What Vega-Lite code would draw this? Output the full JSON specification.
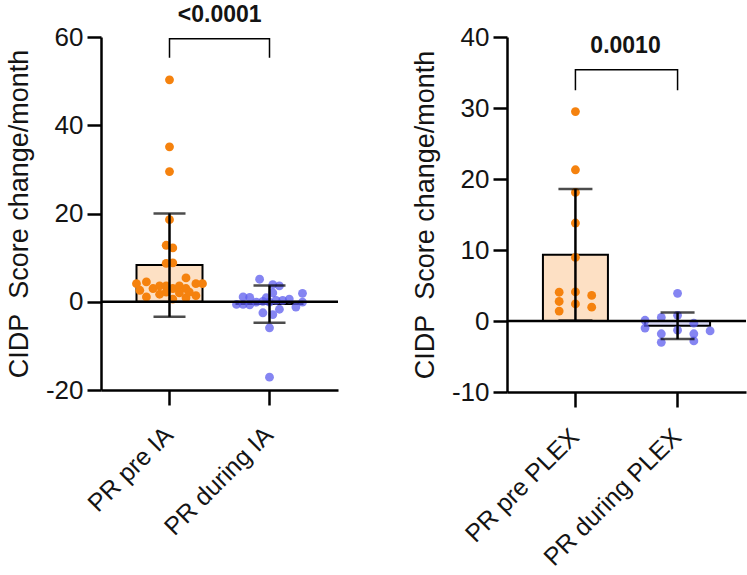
{
  "$schema": "https://vega.github.io/schema/vega-lite/v6.json",
  "padding": {"left": 5, "top": 3, "right": 0, "bottom": 0},
  "spacing": 71,
  "config": {
    "view": {"stroke": null},
    "font": "Liberation Sans",
    "axis": {
      "domainColor": "black", "domainWidth": 2.5, "tickColor": "black", "tickWidth": 2.5,
      "labelColor": "#141414", "titleColor": "#141414", "labelFont": "Liberation Sans", "titleFont": "Liberation Sans",
      "grid": false, "labelLimit": 400
    }
  },
  "datasets": {
    "ia": [
      {"cat": "PR pre IA", "kind": "pre", "v": 50.3, "slot": 0},
      {"cat": "PR pre IA", "kind": "pre", "v": 35.1, "slot": 0},
      {"cat": "PR pre IA", "kind": "pre", "v": 29.5, "slot": 0},
      {"cat": "PR pre IA", "kind": "pre", "v": 18.6, "slot": 0},
      {"cat": "PR pre IA", "kind": "pre", "v": 12.8, "slot": -1},
      {"cat": "PR pre IA", "kind": "pre", "v": 12.2, "slot": 1},
      {"cat": "PR pre IA", "kind": "pre", "v": 8.7, "slot": -1},
      {"cat": "PR pre IA", "kind": "pre", "v": 8.8, "slot": 1},
      {"cat": "PR pre IA", "kind": "pre", "v": 5.4, "slot": 5},
      {"cat": "PR pre IA", "kind": "pre", "v": 4.5, "slot": -7},
      {"cat": "PR pre IA", "kind": "pre", "v": 4.1, "slot": -10},
      {"cat": "PR pre IA", "kind": "pre", "v": 4.1, "slot": 10},
      {"cat": "PR pre IA", "kind": "pre", "v": 4.1, "slot": 8},
      {"cat": "PR pre IA", "kind": "pre", "v": 3.0, "slot": -5},
      {"cat": "PR pre IA", "kind": "pre", "v": 3.6, "slot": -3},
      {"cat": "PR pre IA", "kind": "pre", "v": 3.6, "slot": -1},
      {"cat": "PR pre IA", "kind": "pre", "v": 3.0, "slot": 1},
      {"cat": "PR pre IA", "kind": "pre", "v": 3.6, "slot": 3},
      {"cat": "PR pre IA", "kind": "pre", "v": 3.0, "slot": 5},
      {"cat": "PR pre IA", "kind": "pre", "v": 1.1, "slot": -7},
      {"cat": "PR pre IA", "kind": "pre", "v": 1.7, "slot": -3},
      {"cat": "PR pre IA", "kind": "pre", "v": 2.2, "slot": -1},
      {"cat": "PR pre IA", "kind": "pre", "v": 2.0, "slot": 3},
      {"cat": "PR pre IA", "kind": "pre", "v": 1.4, "slot": 8},
      {"cat": "PR pre IA", "kind": "pre", "v": 0.9, "slot": 5},
      {"cat": "PR pre IA", "kind": "pre", "v": 0.6, "slot": 1},
      {"cat": "PR pre IA", "kind": "pre", "v": 2.2, "slot": 6},
      {"cat": "PR pre IA", "kind": "pre", "v": 2.6, "slot": -9},
      {"cat": "PR during IA", "kind": "during", "v": 5.1, "slot": -3},
      {"cat": "PR during IA", "kind": "during", "v": 3.9, "slot": 1},
      {"cat": "PR during IA", "kind": "during", "v": 3.6, "slot": 3},
      {"cat": "PR during IA", "kind": "during", "v": 1.9, "slot": 10},
      {"cat": "PR during IA", "kind": "during", "v": 1.1, "slot": -8},
      {"cat": "PR during IA", "kind": "during", "v": 1.0, "slot": -6},
      {"cat": "PR during IA", "kind": "during", "v": 2.0, "slot": 1},
      {"cat": "PR during IA", "kind": "during", "v": 0.9, "slot": -1},
      {"cat": "PR during IA", "kind": "during", "v": -0.6, "slot": -10},
      {"cat": "PR during IA", "kind": "during", "v": -0.6, "slot": -8},
      {"cat": "PR during IA", "kind": "during", "v": -0.7, "slot": -6},
      {"cat": "PR during IA", "kind": "during", "v": -0.1, "slot": -4},
      {"cat": "PR during IA", "kind": "during", "v": 0.1, "slot": -2},
      {"cat": "PR during IA", "kind": "during", "v": -0.1, "slot": 0},
      {"cat": "PR during IA", "kind": "during", "v": 0.3, "slot": 2},
      {"cat": "PR during IA", "kind": "during", "v": 0.3, "slot": 4},
      {"cat": "PR during IA", "kind": "during", "v": 0.6, "slot": 6},
      {"cat": "PR during IA", "kind": "during", "v": -1.2, "slot": 8},
      {"cat": "PR during IA", "kind": "during", "v": -0.1, "slot": 10},
      {"cat": "PR during IA", "kind": "during", "v": -2.5, "slot": -2},
      {"cat": "PR during IA", "kind": "during", "v": -1.7, "slot": 3},
      {"cat": "PR during IA", "kind": "during", "v": -2.9, "slot": 1},
      {"cat": "PR during IA", "kind": "during", "v": -5.9, "slot": 0},
      {"cat": "PR during IA", "kind": "during", "v": -17.1, "slot": 0}
    ],
    "plex": [
      {"cat": "PR pre PLEX", "kind": "pre", "v": 29.5, "slot": 0},
      {"cat": "PR pre PLEX", "kind": "pre", "v": 21.3, "slot": 0},
      {"cat": "PR pre PLEX", "kind": "pre", "v": 18.1, "slot": 0},
      {"cat": "PR pre PLEX", "kind": "pre", "v": 13.8, "slot": 0},
      {"cat": "PR pre PLEX", "kind": "pre", "v": 8.95, "slot": 0},
      {"cat": "PR pre PLEX", "kind": "pre", "v": 4.05, "slot": -5},
      {"cat": "PR pre PLEX", "kind": "pre", "v": 4.1, "slot": 0},
      {"cat": "PR pre PLEX", "kind": "pre", "v": 3.6, "slot": 5},
      {"cat": "PR pre PLEX", "kind": "pre", "v": 2.75, "slot": -5},
      {"cat": "PR pre PLEX", "kind": "pre", "v": 2.4, "slot": 0},
      {"cat": "PR pre PLEX", "kind": "pre", "v": 1.95, "slot": 5},
      {"cat": "PR pre PLEX", "kind": "pre", "v": 1.4, "slot": -5},
      {"cat": "PR during PLEX", "kind": "during", "v": 3.9, "slot": 0},
      {"cat": "PR during PLEX", "kind": "during", "v": 0.1, "slot": -10},
      {"cat": "PR during PLEX", "kind": "during", "v": -1.0, "slot": -10},
      {"cat": "PR during PLEX", "kind": "during", "v": 0.5, "slot": -5},
      {"cat": "PR during PLEX", "kind": "during", "v": 0.8, "slot": 0},
      {"cat": "PR during PLEX", "kind": "during", "v": -0.3, "slot": 5},
      {"cat": "PR during PLEX", "kind": "during", "v": -1.3, "slot": 0},
      {"cat": "PR during PLEX", "kind": "during", "v": -1.8, "slot": -5},
      {"cat": "PR during PLEX", "kind": "during", "v": -1.8, "slot": 5},
      {"cat": "PR during PLEX", "kind": "during", "v": -1.4, "slot": 10},
      {"cat": "PR during PLEX", "kind": "during", "v": -3.0, "slot": -5},
      {"cat": "PR during PLEX", "kind": "during", "v": -2.8, "slot": 5}
    ]
  },
  "hconcat": [
    {
      "width": 237, "height": 353,
      "data": {"name": "ia"},
      "resolve": {"scale": {"xOffset": "independent"}},
      "layer": [
        {
          "mark": {"type": "bar", "stroke": "black", "strokeWidth": 2, "width": 66},
          "encoding": {
            "x": {"field": "cat", "type": "nominal", "title": null,
              "scale": {"domain": ["PR pre IA", "PR during IA"], "paddingInner": 0.34, "paddingOuter": 0.355},
              "axis": {"labelAngle": -45, "labelAlign": "right", "labelBaseline": "top", "labelFontSize": 25, "tickSize": 15, "labelPadding": 17, "labelOffset": -9}},
            "y": {"aggregate": "mean", "field": "v", "type": "quantitative", "title": "CIDP\u00a0 Score change/month",
              "scale": {"domain": [-20, 60], "nice": false, "zero": false},
              "axis": {"values": [-20, 0, 20, 40, 60], "labelExpr": "datum.value < 0 ? '-' + abs(datum.value) : '' + datum.value", "titleFontSize": 27, "titleFontWeight": "normal", "titlePadding": 12, "labelFontSize": 26, "tickSize": 14, "labelPadding": 4}},
            "fill": {"field": "kind", "type": "nominal", "scale": {"domain": ["pre", "during"], "range": ["#fde0c4", "#dadaf6"]}, "legend": null}
          }
        },
        {
          "mark": {"type": "circle", "size": 78, "opacity": 1},
          "encoding": {
            "x": {"field": "cat", "type": "nominal", "title": null},
            "xOffset": {"field": "slot", "type": "ordinal", "scale": {"domain": [-10,-9,-8,-7,-6,-5,-4,-3,-2,-1,0,1,2,3,4,5,6,7,8,9,10], "paddingInner": 0, "paddingOuter": 0}},
            "y": {"field": "v", "type": "quantitative", "title": "CIDP\u00a0 Score change/month"},
            "color": {"field": "kind", "type": "nominal", "scale": {"domain": ["pre", "during"], "range": ["#f5820e", "rgba(92,92,238,0.75)"]}, "legend": null}
          }
        },
        {
          "mark": {"type": "errorbar", "extent": "stdev", "color": "black", "rule": {"strokeWidth": 2.5}, "ticks": {"size": 32, "thickness": 2.5}},
          "encoding": {
            "x": {"field": "cat", "type": "nominal", "title": null},
            "y": {"field": "v", "type": "quantitative", "title": "CIDP\u00a0 Score change/month"}
          }
        },
        {
          "data": {"values": [{"z": 0}]},
          "mark": {"type": "rule", "color": "black", "strokeWidth": 2.5},
          "encoding": {"y": {"field": "z", "type": "quantitative", "title": "CIDP\u00a0 Score change/month"}}
        },
        {
          "data": {"values": [
            {"cat": "PR pre IA", "v": 55.3, "o": 1},
            {"cat": "PR pre IA", "v": 59.6, "o": 2},
            {"cat": "PR during IA", "v": 59.6, "o": 3},
            {"cat": "PR during IA", "v": 55.3, "o": 4}
          ]},
          "mark": {"type": "line", "color": "black", "strokeWidth": 1.5},
          "encoding": {
            "x": {"field": "cat", "type": "nominal", "title": null},
            "y": {"field": "v", "type": "quantitative", "title": "CIDP\u00a0 Score change/month"},
            "order": {"field": "o", "type": "quantitative"}
          }
        },
        {
          "data": {"values": [{"cat": "PR pre IA", "v": 65, "t": "<0.0001"}]},
          "mark": {"type": "text", "fontSize": 23, "fontWeight": "bold", "align": "center", "baseline": "middle", "color": "#141414"},
          "encoding": {
            "x": {"field": "cat", "type": "nominal", "title": null, "bandPosition": 1.26},
            "y": {"field": "v", "type": "quantitative", "title": "CIDP\u00a0 Score change/month"},
            "text": {"field": "t"}
          }
        }
      ]
    },
    {
      "width": 239, "height": 355,
      "data": {"name": "plex"},
      "resolve": {"scale": {"xOffset": "independent"}},
      "layer": [
        {
          "mark": {"type": "bar", "stroke": "black", "strokeWidth": 2, "width": 65},
          "encoding": {
            "x": {"field": "cat", "type": "nominal", "title": null,
              "scale": {"domain": ["PR pre PLEX", "PR during PLEX"], "paddingInner": 0.363, "paddingOuter": 0.3515},
              "axis": {"labelAngle": -45, "labelAlign": "right", "labelBaseline": "top", "labelFontSize": 25, "tickSize": 15, "labelPadding": 17, "labelOffset": -9}},
            "y": {"aggregate": "mean", "field": "v", "type": "quantitative", "title": "CIDP\u00a0 Score change/month",
              "scale": {"domain": [-10, 40], "nice": false, "zero": false},
              "axis": {"values": [-10, 0, 10, 20, 30, 40], "labelExpr": "datum.value < 0 ? '-' + abs(datum.value) : '' + datum.value", "titleFontSize": 27, "titleFontWeight": "normal", "titlePadding": 12, "labelFontSize": 26, "tickSize": 14, "labelPadding": 4}},
            "fill": {"field": "kind", "type": "nominal", "scale": {"domain": ["pre", "during"], "range": ["#fde0c4", "#dadaf6"]}, "legend": null}
          }
        },
        {
          "mark": {"type": "circle", "size": 78, "opacity": 1},
          "encoding": {
            "x": {"field": "cat", "type": "nominal", "title": null},
            "xOffset": {"field": "slot", "type": "ordinal", "scale": {"domain": [-10,-9,-8,-7,-6,-5,-4,-3,-2,-1,0,1,2,3,4,5,6,7,8,9,10], "paddingInner": 0, "paddingOuter": 0}},
            "y": {"field": "v", "type": "quantitative", "title": "CIDP\u00a0 Score change/month"},
            "color": {"field": "kind", "type": "nominal", "scale": {"domain": ["pre", "during"], "range": ["#f5820e", "rgba(92,92,238,0.75)"]}, "legend": null}
          }
        },
        {
          "mark": {"type": "errorbar", "extent": "stdev", "color": "black", "rule": {"strokeWidth": 2.5}, "ticks": {"size": 34, "thickness": 2.5}},
          "encoding": {
            "x": {"field": "cat", "type": "nominal", "title": null},
            "y": {"field": "v", "type": "quantitative", "title": "CIDP\u00a0 Score change/month"}
          }
        },
        {
          "data": {"values": [{"z": 0}]},
          "mark": {"type": "rule", "color": "black", "strokeWidth": 2.5},
          "encoding": {"y": {"field": "z", "type": "quantitative", "title": "CIDP\u00a0 Score change/month"}}
        },
        {
          "data": {"values": [
            {"cat": "PR pre PLEX", "v": 32.5, "o": 1},
            {"cat": "PR pre PLEX", "v": 35.4, "o": 2},
            {"cat": "PR during PLEX", "v": 35.4, "o": 3},
            {"cat": "PR during PLEX", "v": 32.5, "o": 4}
          ]},
          "mark": {"type": "line", "color": "black", "strokeWidth": 1.5},
          "encoding": {
            "x": {"field": "cat", "type": "nominal", "title": null},
            "y": {"field": "v", "type": "quantitative", "title": "CIDP\u00a0 Score change/month"},
            "order": {"field": "o", "type": "quantitative"}
          }
        },
        {
          "data": {"values": [{"cat": "PR pre PLEX", "v": 38.7, "t": "0.0010"}]},
          "mark": {"type": "text", "fontSize": 23, "fontWeight": "bold", "align": "center", "baseline": "middle", "color": "#141414"},
          "encoding": {
            "x": {"field": "cat", "type": "nominal", "title": null, "bandPosition": 1.27},
            "y": {"field": "v", "type": "quantitative", "title": "CIDP\u00a0 Score change/month"},
            "text": {"field": "t"}
          }
        }
      ]
    }
  ]
}
